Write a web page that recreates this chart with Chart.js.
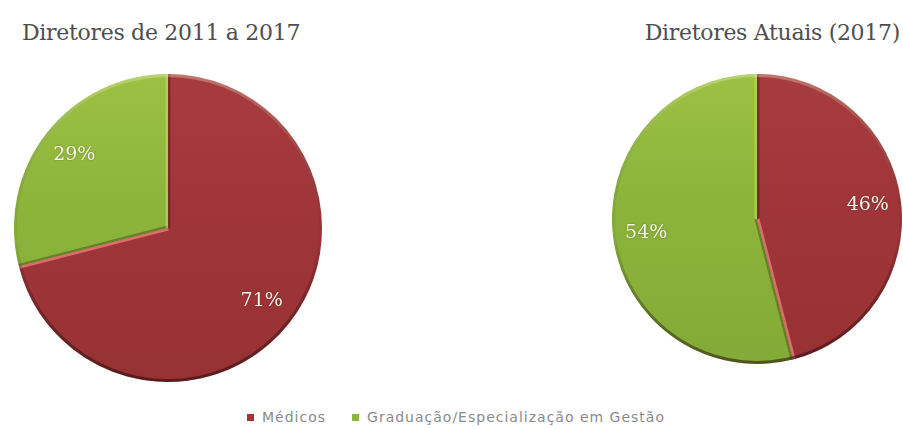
<!DOCTYPE html>
<html lang="pt">
<head>
  <meta charset="UTF-8">
  <title>Diretores</title>
  <script src="https://cdn.jsdelivr.net/npm/chart.js"></script>
  <style>
    html, body { margin: 0; padding: 0; background: #fff; }
    #wrap { position: relative; width: 903px; height: 429px; overflow: hidden; }
    .title {
      position: absolute; top: 19px;
      font-family: "DejaVu Serif", serif; font-size: 22px; line-height: 28px;
      color: #4e4e4e; letter-spacing: -0.3px; white-space: nowrap;
    }
    #titleLeft { left: 22px; }
    #titleRight { right: 3px; }
    .pie { position: absolute; }
    #pieLeft { left: 14px; top: 74px; width: 308px; height: 308px; }
    #pieRight { left: 612px; top: 74px; width: 290px; height: 290px; }
    #legend {
      position: absolute; left: 247px; top: 409px;
      display: flex; align-items: center;
      font-family: "DejaVu Sans", sans-serif; font-size: 14px; line-height: 16px;
      color: #8a8a8a; letter-spacing: 1px; white-space: nowrap;
    }
    #legend .item { display: flex; align-items: center; margin-right: 26px; }
    #legend .box { width: 7px; height: 7px; margin-right: 8px; }
  </style>
</head>
<body>
  <div id="wrap">
    <div class="title" id="titleLeft"></div>
    <div class="title" id="titleRight"></div>
    <canvas class="pie" id="pieLeft" width="308" height="308"></canvas>
    <canvas class="pie" id="pieRight" width="290" height="290"></canvas>
    <div id="legend"></div>
  </div>

  <script>
    // chart data
    const categories = ['Médicos', 'Graduação/Especialização em Gestão'];
    const periodTitles = ['Diretores de 2011 a 2017', 'Diretores Atuais (2017)'];
    const shares2011to2017 = [71, 29];
    const sharesCurrent = [46, 54];

    // base colour, lit edge, shaded edge per category
    const sliceColors = ['#a0363a', '#8db53c'];
    const sliceTop = ['#a63c3e', '#9cc043'];
    const sliceBottom = ['#983134', '#84aa37'];
    const edgeLight = ['rgba(232,120,116,0.85)', 'rgba(200,222,110,0.5)'];
    const edgeDark = ['rgba(90,20,20,0.45)', 'rgba(70,80,20,0.5)'];

    document.getElementById('titleLeft').textContent = periodTitles[0];
    document.getElementById('titleRight').textContent = periodTitles[1];

    // legend built from the same categories/colours
    const legend = document.getElementById('legend');
    categories.forEach((name, i) => {
      const item = document.createElement('div');
      item.className = 'item';
      item.innerHTML = `<span class="box" style="background:${sliceColors[i]}"></span><span>${name}</span>`;
      legend.appendChild(item);
    });

    // vertical gradient per slice, spanning the whole pie
    function sliceFill(context) {
      const chart = context.chart;
      const area = chart.chartArea;
      if (!area) return sliceColors[context.dataIndex];
      const i = context.dataIndex;
      const g = chart.ctx.createLinearGradient(0, area.top, 0, area.bottom);
      g.addColorStop(0, sliceTop[i]);
      g.addColorStop(0.4, sliceColors[i]);
      g.addColorStop(1, sliceBottom[i]);
      return g;
    }

    // bevelled edges and rim shading
    const bevelPlugin = {
      id: 'bevel',
      afterDatasetsDraw(chart) {
        const ctx = chart.ctx;
        const arcs = chart.getDatasetMeta(0).data;
        arcs.forEach((arc, i) => {
          const { x, y, startAngle, endAngle, outerRadius } =
            arc.getProps(['x', 'y', 'startAngle', 'endAngle', 'outerRadius'], true);
          ctx.save();
          ctx.beginPath();
          ctx.moveTo(x, y);
          ctx.arc(x, y, outerRadius, startAngle, endAngle);
          ctx.closePath();
          ctx.clip();
          ctx.lineWidth = 5;
          ctx.strokeStyle = edgeDark[i];
          ctx.beginPath();
          ctx.moveTo(x, y);
          ctx.lineTo(x + Math.cos(startAngle) * outerRadius, y + Math.sin(startAngle) * outerRadius);
          ctx.stroke();
          ctx.strokeStyle = edgeLight[i];
          ctx.beginPath();
          ctx.moveTo(x, y);
          ctx.lineTo(x + Math.cos(endAngle) * outerRadius, y + Math.sin(endAngle) * outerRadius);
          ctx.stroke();
          ctx.restore();
        });
        if (!arcs.length) return;
        const { x, y, outerRadius } = arcs[0].getProps(['x', 'y', 'outerRadius'], true);
        ctx.save();
        const rim = ctx.createLinearGradient(0, y - outerRadius, 0, y + outerRadius);
        rim.addColorStop(0, 'rgba(255,255,220,0.3)');
        rim.addColorStop(0.55, 'rgba(0,0,0,0.04)');
        rim.addColorStop(1, 'rgba(40,10,10,0.55)');
        ctx.strokeStyle = rim;
        ctx.lineWidth = 3;
        ctx.beginPath();
        ctx.arc(x, y, outerRadius - 1.5, 0, Math.PI * 2);
        ctx.stroke();
        ctx.restore();
      }
    };

    // percentage labels inside each slice
    const percentLabels = {
      id: 'percentLabels',
      afterDraw(chart) {
        const ctx = chart.ctx;
        const values = chart.data.datasets[0].data;
        const total = values.reduce((a, b) => a + b, 0);
        chart.getDatasetMeta(0).data.forEach((arc, i) => {
          const { x, y, startAngle, endAngle, outerRadius } =
            arc.getProps(['x', 'y', 'startAngle', 'endAngle', 'outerRadius'], true);
          const mid = (startAngle + endAngle) / 2;
          const r = outerRadius * 0.77;
          ctx.save();
          ctx.font = '19px "DejaVu Serif", serif';
          ctx.fillStyle = '#f6f3e8';
          ctx.textAlign = 'center';
          ctx.textBaseline = 'middle';
          ctx.shadowColor = 'rgba(0,0,0,0.3)';
          ctx.shadowBlur = 2;
          ctx.fillText(Math.round(values[i] / total * 100) + '%', x + Math.cos(mid) * r, y + Math.sin(mid) * r);
          ctx.restore();
        });
      }
    };

    function makePie(canvasId, values) {
      return new Chart(document.getElementById(canvasId), {
        type: 'pie',
        data: {
          labels: categories,
          datasets: [{
            data: values,
            backgroundColor: sliceFill,
            borderWidth: 0,
            hoverOffset: 0
          }]
        },
        options: {
          responsive: false,
          animation: false,
          events: [],
          layout: { padding: 0 },
          plugins: {
            legend: { display: false },
            title: { display: false },
            tooltip: { enabled: false }
          }
        },
        plugins: [bevelPlugin, percentLabels]
      });
    }

    makePie('pieLeft', shares2011to2017);
    makePie('pieRight', sharesCurrent);
  </script>
</body>
</html>
